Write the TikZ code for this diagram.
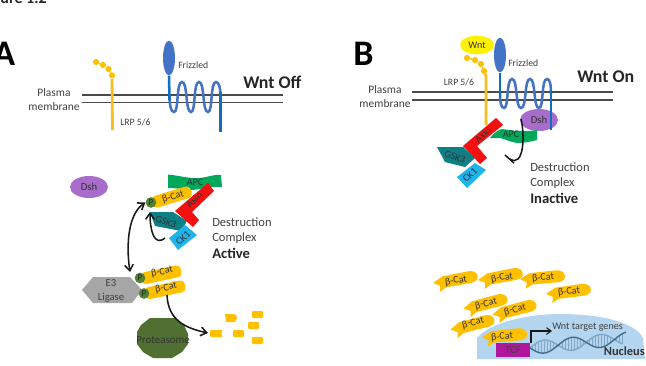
\documentclass[tikz,border=0pt]{standalone}
\usepackage{fontspec}
\setmainfont{Carlito}
\usetikzlibrary{arrows.meta,shapes.geometric}
\definecolor{cat}{HTML}{FFC000}
\definecolor{lrp}{HTML}{F9BE1E}
\definecolor{fzbody}{HTML}{4472C4}
\definecolor{fzstem}{HTML}{0F6FBE}
\definecolor{mem}{HTML}{4A4A4A}
\definecolor{dshc}{HTML}{A86CCB}
\definecolor{apcc}{HTML}{00A859}
\definecolor{axinc}{HTML}{F21010}
\definecolor{gskc}{HTML}{0F7F86}
\definecolor{ckc}{HTML}{1FB5EC}
\definecolor{phos}{HTML}{548235}
\definecolor{protc}{HTML}{4F7030}
\definecolor{e3c}{HTML}{A6A6A6}
\definecolor{nuc}{HTML}{B4D5EF}
\definecolor{tcfc}{HTML}{B0179C}
\definecolor{dnadark}{HTML}{3F6A8A}
\definecolor{dnalite}{HTML}{7FA6C4}
\definecolor{txt}{HTML}{404040}
\tikzset{
  x=0.75pt,y=-0.75pt,
  lab/.style={font=\fontsize{7.3pt}{8pt}\selectfont,text=txt,inner sep=0pt},
  side/.style={font=\fontsize{8.6pt}{10pt}\selectfont,text=txt,inner sep=0pt},
  state/.style={font=\fontsize{13.4pt}{15pt}\selectfont\bfseries,text=black!85,inner sep=0pt,anchor=base west},
  panel/.style={font=\fontsize{27pt}{29pt}\selectfont\bfseries,text=black,inner sep=0pt,anchor=base west},
  dc/.style={font=\fontsize{9.4pt}{11pt}\selectfont,text=txt,inner sep=0pt,anchor=base west},
  dcb/.style={font=\fontsize{11pt}{13pt}\selectfont\bfseries,text=black!85,inner sep=0pt,anchor=base west},
  inlab/.style={font=\fontsize{7.6pt}{8pt}\selectfont,text=black!80,inner sep=0pt},
  memline/.style={draw=mem,line width=1.25pt},
  lrpline/.style={draw=lrp,line width=2.1pt},
  bead/.style={circle,fill=cat,inner sep=0pt,minimum size=4.6pt},
  fzhead/.style={ellipse,fill=fzbody,inner sep=0pt,minimum width=9pt,minimum height=26pt},
  coil/.style={draw=fzbody,line width=1.9pt},
  stem/.style={draw=fzstem,line width=1.9pt},
  dshnode/.style={ellipse,fill=dshc,inner sep=0pt,minimum width=28.5pt,minimum height=16.5pt,font=\fontsize{8pt}{9pt}\selectfont,text=black!80},
  wntnode/.style={ellipse,fill=yellow,inner sep=0pt,minimum width=25.5pt,minimum height=14pt,font=\fontsize{7.6pt}{9pt}\selectfont,text=black!80},
  pnode/.style={circle,fill=phos,inner sep=0pt,minimum size=8pt,font=\fontsize{6.8pt}{8pt}\selectfont,text=black!85},
  arr/.style={draw=black!90,line width=1.15pt,-{Straight Barb[length=4.5pt,width=6.5pt]}},
  arrtwo/.style={draw=black!90,line width=1.15pt,{Straight Barb[length=4.5pt,width=6.5pt]}-{Straight Barb[length=4.5pt,width=6.5pt]}},
  blunt/.style={draw=black!90,line width=1.15pt},
  frag/.style={fill=cat,rounded corners=.8pt},
  capsule/.pic={
    \fill[cat,rounded corners=3.2pt] (0,-6) -- (41,-6) -- (41,6) -- (0,6) -- cycle;
  },
  freecat/.pic={
    \fill[cat] (-23,-1) -- (-13,-6) -- (13,-6.5) .. controls (20,-6.5) and (22,-3) .. (22,0)
      .. controls (22,3) and (20,5.5) .. (13,5.5) -- (-11,5.5) -- (-18,9) -- (-16.5,3) -- cycle;
  },
}
\begin{document}
\begin{tikzpicture}
\useasboundingbox (0,0) rectangle (646,365);
\fill[white] (0,0) rectangle (646,365);

% Figure heading and panel letter, cut by the picture edge
\begin{scope}
\clip (0,0) rectangle (646,365);
\node[font=\fontsize{12pt}{14pt}\selectfont\bfseries,text=black!85,inner sep=0pt,anchor=base east] (heading) at (47,3) {ure 1.2};
\node[panel] (panelA) at (-7,65) {A};
\end{scope}
\node[panel] (panelB) at (353,65) {B};

% ---------- Panel A: membrane ----------
\coordinate (ma1) at (82,95);  \coordinate (ma2) at (283,95);
\coordinate (mb1) at (82,102.5); \coordinate (mb2) at (283,102.5);
\draw[memline] (ma1) -- (ma2);
\draw[memline] (mb1) -- (mb2);
\node[side] (pmA1) at (54,92.5) {Plasma};
\node[side] (pmA2) at (54,106.5) {membrane};

% LRP 5/6, Wnt off
\node[bead] (bA1) at (96,62) {};
\node[bead] (bA2) at (103,65) {};
\node[bead] (bA3) at (108.5,69) {};
\node[bead] (bA4) at (112,75.5) {};
\coordinate (lrpAb) at (112.5,130);
\draw[draw=cat,line width=1.2pt] (bA1) -- (bA2) -- (bA3) -- (bA4);
\draw[lrpline] (bA4) -- (lrpAb);
\node[lab,anchor=west] (lrpAl) at (120,122.5) {LRP 5/6};

% Frizzled, Wnt off
\node[fzhead] (fzA) at (169,58) {};
\node[lab,anchor=west] (fzAl) at (178,65.5) {Frizzled};
\draw[coil] (169.5,94)
  .. controls (169.5,106) and (171,112) .. (174,112)
  .. controls (179,112) and (176,82) .. (182,82)
  .. controls (188,82) and (185,112) .. (191,112)
  .. controls (196,112) and (193,82) .. (199,82)
  .. controls (205,82) and (202,112) .. (208,112)
  .. controls (213,112) and (210,82) .. (216,82)
  .. controls (219,82) and (220.5,88) .. (220.5,96);
\coordinate (fzAs) at (169.5,100);
\draw[stem] (fzA.south) -- (fzAs);
\coordinate (fzAe1) at (220.5,92); \coordinate (fzAe2) at (220.5,132);
\draw[stem] (fzAe1) -- (fzAe2);
\node[state] (wntoff) at (243,88) {Wnt Off};

% ---------- Panel A: destruction complex ----------
\node[dshnode] (dshA) at (89,187) {Dsh};
\fill[apcc] (168,174.5) .. controls (182,176) and (190,179) .. (200,178) .. controls (208,177) and (216,174) .. (221,175)
  -- (222,187) .. controls (208,186) and (200,190) .. (190,190) .. controls (182,189) and (175,188) .. (168,188) -- cycle;
\node[inlab] (apcA) at (195,182) {APC};

\pic[rotate=17] at (152,203) {capsule};
\node[inlab,rotate=17] (catA0) at (173,197) {β-Cat};
\node[pnode] (pA0) at (151,202.5) {P};

\fill[gskc] (150,212) -- (173,212) -- (187,221) -- (181,231) -- (155,226) -- cycle;
\fill[axinc] (175,211) -- (208,183) -- (214,191) -- (192,212) -- (199,220) -- (193,227) -- cycle;
\fill[ckc] (169,238) -- (185,225) -- (197,235) -- (178,250) -- cycle;
\node[inlab,rotate=-20] (gskA) at (166,222) {GSK3};
\node[inlab,rotate=45] (ckA) at (183,238) {CK1};
\node[inlab,rotate=45] (axA) at (194,200) {Axin};

\coordinate (selfA) at (165,238);
\coordinate (selfAt) at (150,212);
\draw[arr] (selfA) .. controls (154,247) and (150,230) .. (selfAt);
\coordinate (e3top) at (130,272);
\draw[arrtwo] (pA0.west) .. controls (128,214) and (126,245) .. (e3top);

\node[dc] (dcA1) at (212,226) {Destruction};
\node[dc] (dcA2) at (212,241) {Complex};
\node[dcb] (dcA3) at (212,258) {Active};

% E3 ligase and marked β-catenin
\fill[e3c] (82,290) -- (93,277) -- (130,277) -- (142,290) -- (132,303) -- (93,303) -- cycle;
\node[inlab,text=txt,align=center,font=\fontsize{8pt}{11pt}\selectfont] (e3) at (111,291) {E3\\Ligase};
\pic[rotate=12] at (141,279) {capsule};
\node[inlab,rotate=12] (catA1) at (162,272) {β-Cat};
\node[pnode] (pA1) at (140,278) {P};
\pic[rotate=12] at (145,294) {capsule};
\node[inlab,rotate=12] (catA2) at (166,288) {β-Cat};
\node[pnode] (pA2) at (144,293.5) {P};

% Proteasome and fragments
\fill[protc] (150,318) -- (175,318) -- (184,325) -- (188,334) -- (188,344) -- (182,352)
  -- (172,358) -- (153,358) -- (143,352) -- (137,344) -- (137,332) -- (141,325) -- cycle;
\node[inlab,font=\fontsize{8.2pt}{9pt}\selectfont] (prot) at (163,340) {Proteasome};
\fill[frag] (210,330) -- (223,330) -- (221,333.5) -- (223,337) -- (210,337) -- cycle;
\fill[cat] (225,314) -- (232,314) .. controls (236,314) and (237,316) .. (237,318)
  -- (235,322) -- (226,322) -- cycle;
\fill[frag] (252,311) rectangle (263,318);
\fill[frag] (248,322) rectangle (259,329);
\fill[frag] (233,330) rectangle (244,337);
\fill[frag] (252,337) rectangle (263,344);
\coordinate (fragIn) at (208,333);
\coordinate (catTail) at (167,295);
\draw[arr] (catTail) .. controls (168,320) and (185,328) .. (fragIn);

% ---------- Panel B: membrane ----------
\coordinate (mc1) at (412,92);  \coordinate (mc2) at (613,92);
\coordinate (md1) at (412,100); \coordinate (md2) at (613,100);
\draw[memline] (mc1) -- (mc2);
\draw[memline] (md1) -- (md2);
\node[side] (pmB1) at (385,89.5) {Plasma};
\node[side] (pmB2) at (385,103.5) {membrane};

% LRP 5/6 with Wnt bound
\node[wntnode] (wnt) at (477,45) {Wnt};
\node[bead] (bB1) at (467,58) {};
\node[bead] (bB2) at (475,60) {};
\node[bead] (bB3) at (481,64) {};
\node[bead] (bB4) at (484,71) {};
\coordinate (lrpBm) at (486,76);
\coordinate (lrpBb) at (486,125);
\draw[draw=cat,line width=1.2pt] (bB1) -- (bB2) -- (bB3) -- (bB4);
\draw[lrpline] (bB4) -- (lrpBm) -- (lrpBb);
\node[lab] (lrpBl) at (459,82) {LRP 5/6};

% Frizzled, Wnt on
\node[fzhead] (fzB) at (500,55) {};
\node[lab,anchor=west] (fzBl) at (508,63) {Frizzled};
\draw[coil] (500,92)
  .. controls (500,102) and (501,108) .. (504,108)
  .. controls (509,108) and (506,79) .. (512,79)
  .. controls (518,79) and (515,108) .. (521,108)
  .. controls (527,108) and (524,79) .. (530,79)
  .. controls (536,79) and (533,108) .. (539,108)
  .. controls (544,108) and (541,79) .. (547,79)
  .. controls (550,79) and (551,85) .. (551,94);
\coordinate (fzBs) at (500,98);
\draw[stem] (fzB.south) -- (fzBs);
\coordinate (fzBe1) at (551,90); \coordinate (fzBe2) at (551,130);
\node[state] (wnton) at (577,82) {Wnt On};

% Inactive complex at the membrane
\node[dshnode] (dshB) at (539,120) {Dsh};
\draw[stem] (fzBe1) -- (fzBe2);
\fill[apcc] (490,138) .. controls (494,133) and (498,130) .. (502,129)
  .. controls (515,131) and (527,132) .. (537,130) -- (537,140)
  .. controls (530,142) and (523,143) .. (517,143) .. controls (510,142) and (505,139) .. (500,138) -- cycle;
\node[inlab] (apcB) at (511,134) {APC};
\fill[gskc] (437,147) -- (463,147) -- (475,158) -- (465,167) -- (445,162) -- cycle;
\fill[axinc] (463,146) -- (496,118) -- (503,125) -- (477,146) -- (487,158) -- (480,164) -- cycle;
\fill[ckc] (457,177) -- (475,163) -- (486,170) -- (467,188) -- cycle;
\node[inlab,rotate=-20] (gskB) at (455,157) {GSK3};
\node[inlab,rotate=45] (ckB) at (470,175) {CK1};
\node[inlab,rotate=42] (axB) at (483,135) {Axin};

\coordinate (inhS) at (521,119);
\coordinate (inhE) at (510,159);
\coordinate (barA) at (505,155); \coordinate (barB) at (514,163);
\draw[blunt] (inhS) .. controls (525,135) and (524,168) .. (inhE);
\draw[blunt] (barA) -- (barB);

\node[dc] (dcB1) at (530,171) {Destruction};
\node[dc] (dcB2) at (530,186) {Complex};
\node[dcb] (dcB3) at (530,203) {Inactive};

% Free β-catenin
\pic[rotate=10] at (456,280) {freecat};
\node[inlab,rotate=10] (c1) at (456,281) {β-Cat};
\pic[rotate=10] at (501,277) {freecat};
\node[inlab,rotate=10] (c2) at (502,278) {β-Cat};
\pic[rotate=5] at (543,278) {freecat};
\node[inlab,rotate=5] (c3) at (543,278) {β-Cat};
\pic[rotate=7] at (569,292) {freecat};
\node[inlab,rotate=7] (c4) at (569,292) {β-Cat};
\pic[rotate=14] at (486,304) {freecat};
\node[inlab,rotate=14] (c5) at (486,304) {β-Cat};
\pic[rotate=14] at (515,310) {freecat};
\node[inlab,rotate=14] (c6) at (515,310) {β-Cat};
\pic[rotate=14] at (473,325) {freecat};
\node[inlab,rotate=14] (c7) at (473,323) {β-Cat};

% Nucleus with target gene
\fill[nuc] (477,359) -- (477,338) .. controls (490,322) and (530,314) .. (560,314)
  .. controls (600,314) and (635,322) .. (643,338) -- (645,359) -- cycle;
\pic[rotate=5] at (505,336) {freecat};
\node[inlab,rotate=5] (c8) at (502,337) {β-Cat};

% Double helix along the nucleus floor
\foreach \rx in {532,535,...,622}
  \draw[dnalite,line width=.5pt] (\rx,{348-0.1*(\rx-530)+6.5*sin(6.4*(\rx-530))}) -- (\rx,{348-0.1*(\rx-530)-6.5*sin(6.4*(\rx-530))});
\draw[dnalite,line width=1pt] plot[domain=530:622,samples=70,smooth] (\x,{348-0.1*(\x-530)-6.5*sin(6.4*(\x-530))});
\draw[dnadark,line width=1pt] plot[domain=530:626,samples=70,smooth] (\x,{348-0.1*(\x-530)+6.5*sin(6.4*(\x-530))});

\node[fill=tcfc,text=black!75,inner sep=0pt,minimum width=25.5pt,minimum height=10.5pt,
      font=\fontsize{8pt}{9pt}\selectfont] (tcf) at (513,350) {TCF};
\node[font=\fontsize{7.6pt}{9pt}\selectfont,text=txt,inner sep=0pt,anchor=west] (genes) at (552,327) {Wnt target genes};
\coordinate (tssS) at (531,343);
\coordinate (tssC) at (531,331);
\draw[draw=black!90,line width=.8pt,-{Straight Barb[length=3.5pt,width=5pt]}] (tssS) -- (tssC) -- (genes.west |- tssC);
\node[font=\fontsize{9.3pt}{11pt}\selectfont\bfseries,text=black!80,inner sep=0pt,anchor=base east] (nucl) at (645,355) {Nucleus};
\end{tikzpicture}
\end{document}
